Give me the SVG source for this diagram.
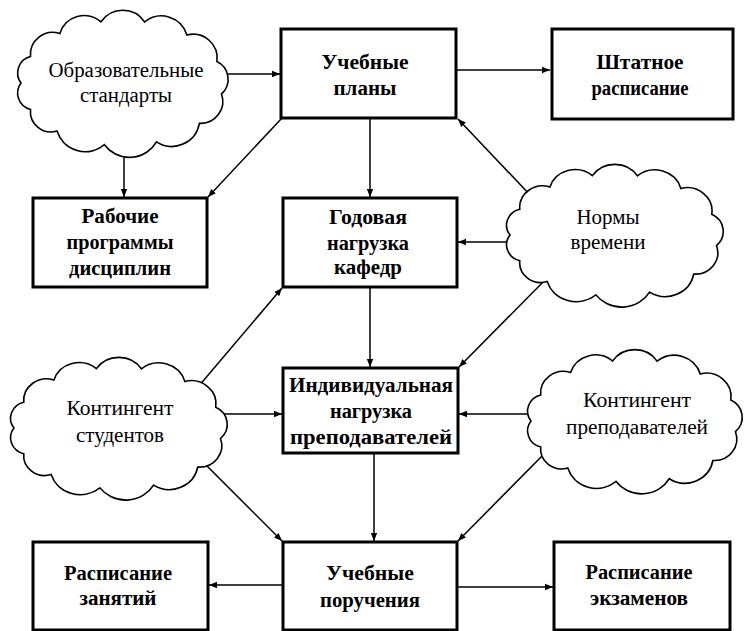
<svg xmlns="http://www.w3.org/2000/svg" width="747" height="631" viewBox="0 0 747 631">
<style>
.box{fill:#fff;stroke:#000;stroke-width:3}
.cloud{fill:#fff;stroke:#000;stroke-width:1.6;vector-effect:non-scaling-stroke}
.bt{font-family:"Liberation Serif","DejaVu Serif",serif;font-weight:bold;font-size:20px;text-anchor:middle;fill:#000}
.ct{font-family:"Liberation Serif","DejaVu Serif",serif;font-size:20px;text-anchor:middle;fill:#000}
.conn line{stroke:#000;stroke-width:1.5;marker-end:url(#ah)}
</style>
<defs>
<marker id="ah" viewBox="0 0 10 10" refX="10" refY="5" markerWidth="8" markerHeight="8" markerUnits="userSpaceOnUse" orient="auto">
<path d="M0,1 L10,5 L0,9 Z" fill="#000"/>
</marker>
<path id="cloudshape" class="cloud" d="M-100,0 A16.7,16.7 0 0 1 -90.6,-26.2 A22,22 0 0 1 -61.6,-48.9 A25.4,25.4 0 0 1 -20.8,-60.6 A26,26 0 0 1 22.5,-60.4 A26.2,26.2 0 0 1 64.3,-47.5 A23.8,23.8 0 0 1 94,-21.2 A19.4,19.4 0 0 1 98.5,10.8 A21.8,21.8 0 0 1 76.6,39.9 A27.7,27.7 0 0 1 34.2,58.3 A31,31 0 0 1 -17.4,61.1 A29.3,29.3 0 0 1 -64.3,47.5 A20.3,20.3 0 0 1 -90.6,26.2 A16.7,16.7 0 0 1 -100,0 Z"/>
</defs>
<rect width="747" height="631" fill="#fff"/>

<g id="connectors" class="conn">
<line x1="222" y1="74" x2="280" y2="74"/>
<line x1="457" y1="70" x2="550" y2="70"/>
<line x1="124" y1="145" x2="124" y2="197"/>
<line x1="282" y1="118" x2="208" y2="197"/>
<line x1="370" y1="118" x2="370" y2="197"/>
<line x1="532" y1="197" x2="458" y2="119"/>
<line x1="518" y1="242" x2="458" y2="242"/>
<line x1="550" y1="275" x2="459" y2="367"/>
<line x1="370" y1="288" x2="370" y2="367"/>
<line x1="198" y1="387" x2="282" y2="288"/>
<line x1="220" y1="414" x2="282" y2="414"/>
<line x1="196" y1="455" x2="282" y2="541"/>
<line x1="535" y1="414" x2="459" y2="414"/>
<line x1="547" y1="451" x2="458" y2="541"/>
<line x1="374" y1="454" x2="374" y2="541"/>
<line x1="283" y1="585" x2="209" y2="585"/>
<line x1="457" y1="587" x2="553" y2="587"/>
</g>

<g id="cloud-standarty">
<use href="#cloudshape" transform="translate(122,83) scale(1.01,1.01)"/>
<text class="ct" x="126" y="77" textLength="155" lengthAdjust="spacingAndGlyphs">Образовательные</text>
<text class="ct" x="126" y="102" textLength="92" lengthAdjust="spacingAndGlyphs">стандарты</text>
</g>
<g id="cloud-normy">
<use href="#cloudshape" transform="translate(614,235) scale(1.04,0.98)"/>
<text class="ct" x="608" y="224" textLength="63" lengthAdjust="spacingAndGlyphs">Нормы</text>
<text class="ct" x="608" y="249" textLength="75" lengthAdjust="spacingAndGlyphs">времени</text>
</g>
<g id="cloud-studenty">
<use href="#cloudshape" transform="translate(118,428) scale(1.04,0.98)"/>
<text class="ct" x="120" y="415" textLength="107" lengthAdjust="spacingAndGlyphs">Контингент</text>
<text class="ct" x="120" y="442" textLength="88" lengthAdjust="spacingAndGlyphs">студентов</text>
</g>
<g id="cloud-prepodavateli">
<use href="#cloudshape" transform="translate(634,421) scale(1.03,0.99)"/>
<text class="ct" x="637" y="407" textLength="108" lengthAdjust="spacingAndGlyphs">Контингент</text>
<text class="ct" x="637" y="434" textLength="142" lengthAdjust="spacingAndGlyphs">преподавателей</text>
</g>

<g id="box-plany">
<rect class="box" x="281" y="29" width="175" height="89"/>
<text class="bt" x="365" y="69" textLength="87" lengthAdjust="spacingAndGlyphs">Учебные</text>
<text class="bt" x="365" y="95" textLength="63" lengthAdjust="spacingAndGlyphs">планы</text>
</g>
<g id="box-shtatnoe">
<rect class="box" x="552" y="29" width="181" height="90"/>
<text class="bt" x="640" y="69" textLength="87" lengthAdjust="spacingAndGlyphs">Штатное</text>
<text class="bt" x="640" y="95" textLength="97" lengthAdjust="spacingAndGlyphs">расписание</text>
</g>
<g id="box-rabochie">
<rect class="box" x="33" y="198" width="174" height="89"/>
<text class="bt" x="120" y="223" textLength="77" lengthAdjust="spacingAndGlyphs">Рабочие</text>
<text class="bt" x="120" y="249" textLength="107" lengthAdjust="spacingAndGlyphs">программы</text>
<text class="bt" x="120" y="275" textLength="102" lengthAdjust="spacingAndGlyphs">дисциплин</text>
</g>
<g id="box-godovaya">
<rect class="box" x="283" y="198" width="174" height="89"/>
<text class="bt" x="368" y="224" textLength="78" lengthAdjust="spacingAndGlyphs">Годовая</text>
<text class="bt" x="368" y="250" textLength="82" lengthAdjust="spacingAndGlyphs">нагрузка</text>
<text class="bt" x="368" y="274" textLength="68" lengthAdjust="spacingAndGlyphs">кафедр</text>
</g>
<g id="box-individ">
<rect class="box" x="283" y="368" width="175" height="85"/>
<text class="bt" x="371" y="392" textLength="164" lengthAdjust="spacingAndGlyphs">Индивидуальная</text>
<text class="bt" x="371" y="418" textLength="82" lengthAdjust="spacingAndGlyphs">нагрузка</text>
<text class="bt" x="371" y="444" textLength="162" lengthAdjust="spacingAndGlyphs">преподавателей</text>
</g>
<g id="box-porucheniya">
<rect class="box" x="283" y="542" width="174" height="88"/>
<text class="bt" x="370" y="580" textLength="88" lengthAdjust="spacingAndGlyphs">Учебные</text>
<text class="bt" x="370" y="607" textLength="100" lengthAdjust="spacingAndGlyphs">поручения</text>
</g>
<g id="box-zanyatiy">
<rect class="box" x="33" y="542" width="175" height="88"/>
<text class="bt" x="118" y="580" textLength="108" lengthAdjust="spacingAndGlyphs">Расписание</text>
<text class="bt" x="118" y="605" textLength="77" lengthAdjust="spacingAndGlyphs">занятий</text>
</g>
<g id="box-ekzamenov">
<rect class="box" x="554" y="542" width="176" height="88"/>
<text class="bt" x="639" y="579" textLength="107" lengthAdjust="spacingAndGlyphs">Расписание</text>
<text class="bt" x="639" y="605" textLength="98" lengthAdjust="spacingAndGlyphs">экзаменов</text>
</g>
</svg>
